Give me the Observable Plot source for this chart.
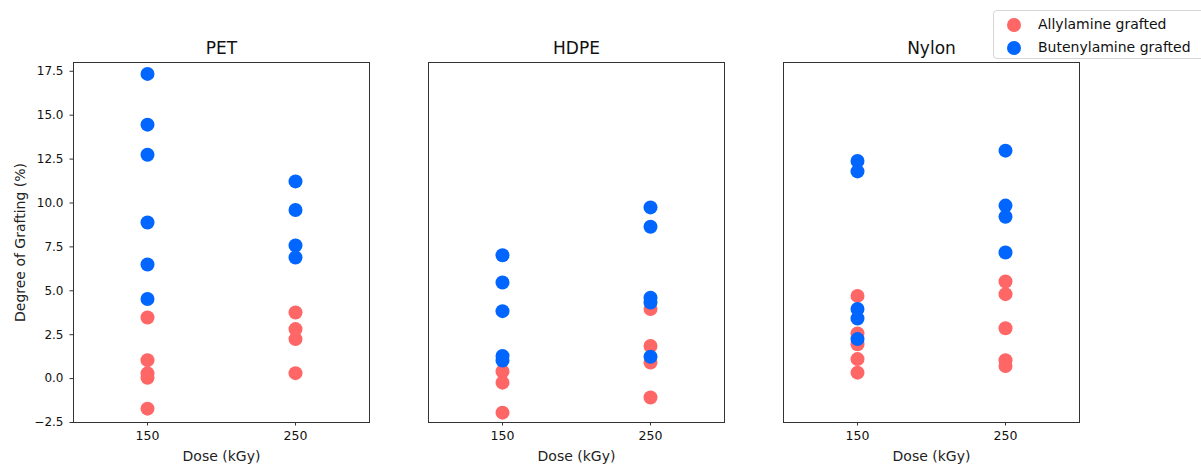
<!DOCTYPE html>
<html>
<head>
<meta charset="utf-8">
<script src="https://cdn.jsdelivr.net/npm/d3@7"></script>
<script src="https://cdn.jsdelivr.net/npm/@observablehq/plot@0.6"></script>
<style>
  body { margin: 0; background: #fff; font-family: "DejaVu Sans", sans-serif; }
  #wrap { position: relative; width: 1201px; height: 466px; overflow: hidden; }
  #legend { position: absolute; left: 993px; top: 10px; width: 220px; height: 49px;
    border: 1px solid #d6d6d6; border-radius: 4px; background: rgba(255,255,255,0.8); box-sizing: border-box; }
  .item { position: absolute; left: 0; height: 20px; font-size: 14px; color: #111; white-space: nowrap; }
  .sw { position: absolute; left: 13px; top: 3px; width: 14px; height: 14px; border-radius: 50%; }
  .lab { position: absolute; left: 44px; top: 1px; line-height: 17px; }
</style>
</head>
<body>
<div id="wrap"><div id="legend"></div></div>
<script>
// ---- data ----
const materials = ["PET", "HDPE", "Nylon"];
const doses = [150, 250];
const seriesNames = ["Allylamine grafted", "Butenylamine grafted"];
const yTicks = [-2.5, 0, 2.5, 5, 7.5, 10, 12.5, 15, 17.5];
const xLabel = "Dose (kGy)";
const yLabel = "Degree of Grafting (%)";

const petAllyl150 = [3.48, 1.05, 0.30, 0.05, -1.71];
const petAllyl250 = [3.76, 2.82, 2.25, 0.31];
const petButenyl150 = [17.35, 14.46, 12.75, 8.89, 6.50, 4.53];
const petButenyl250 = [11.23, 9.60, 7.58, 6.90];

const hdpeAllyl150 = [0.40, -0.23, -1.94];
const hdpeAllyl250 = [3.96, 1.86, 0.91, -1.08];
const hdpeButenyl150 = [7.02, 5.47, 3.84, 1.29, 1.03];
const hdpeButenyl250 = [9.75, 8.65, 4.60, 4.33, 1.24];

const nylonAllyl150 = [4.71, 2.57, 1.96, 1.11, 0.34];
const nylonAllyl250 = [5.53, 4.81, 2.87, 1.05, 0.72];
const nylonButenyl150 = [12.39, 11.80, 3.96, 3.42, 2.25];
const nylonButenyl250 = [12.98, 9.85, 9.22, 7.18];

// ---- styles ----
const seriesColors = ["#ff6666", "#0066ff"];

// ---- build table ----
const groups = [
  ["PET", 0, 150, petAllyl150], ["PET", 0, 250, petAllyl250],
  ["HDPE", 0, 150, hdpeAllyl150], ["HDPE", 0, 250, hdpeAllyl250],
  ["Nylon", 0, 150, nylonAllyl150], ["Nylon", 0, 250, nylonAllyl250],
  ["PET", 1, 150, petButenyl150], ["PET", 1, 250, petButenyl250],
  ["HDPE", 1, 150, hdpeButenyl150], ["HDPE", 1, 250, hdpeButenyl250],
  ["Nylon", 1, 150, nylonButenyl150], ["Nylon", 1, 250, nylonButenyl250]
];
const rows = [];
for (const [m, s, dose, vals] of groups) {
  for (const v of vals) rows.push({material: m, series: seriesNames[s], dose, value: v});
}

const chart = Plot.plot({
  width: 1201,
  height: 466,
  marginLeft: 73,
  marginRight: 122,
  marginTop: 62,
  marginBottom: 44,
  style: {fontFamily: "DejaVu Sans, sans-serif", color: "#111", background: "transparent"},
  fx: {domain: materials, paddingInner: 0.1662, paddingOuter: 0, round: false, label: null, axis: null},
  x: {domain: [100, 300], axis: null},
  y: {domain: [-2.5, 18], axis: null},
  color: {domain: seriesNames, range: seriesColors},
  marks: [
    Plot.dot(rows, {fx: "material", x: "dose", y: "value", fill: "series", r: 7, stroke: "none"}),
    Plot.frame({stroke: "#333", strokeWidth: 1}),
    Plot.axisY({ticks: yTicks, tickFormat: d3.format(".1f"), tickSize: 3.5, tickPadding: 6.5,
      fontSize: 12, label: null, stroke: "#333"}),
    Plot.axisX({ticks: doses, tickSize: 3.5, tickPadding: 5, fontSize: 12.5, label: null, stroke: "#333"}),
    Plot.axisFx({anchor: "top", tickSize: 0, tickPadding: 9, fontSize: 17, label: null}),
    Plot.text(materials, {fx: d => d, text: d => xLabel, frameAnchor: "bottom", dy: 38, fontSize: 14, fill: "#222"}),
    Plot.text([materials[0]], {fx: d => d, text: d => yLabel, frameAnchor: "left", textAnchor: "middle",
      rotate: -90, dx: -53, fontSize: 14, fill: "#222"})
  ]
});
document.getElementById("wrap").prepend(chart);

// legend
const legend = document.getElementById("legend");
seriesNames.forEach((name, i) => {
  const item = document.createElement("div");
  item.className = "item";
  item.style.top = (4 + i * 23) + "px";
  const sw = document.createElement("span");
  sw.className = "sw";
  sw.style.background = seriesColors[i];
  const lab = document.createElement("span");
  lab.className = "lab";
  lab.textContent = name;
  item.append(sw, lab);
  legend.append(item);
});
</script>
</body>
</html>
